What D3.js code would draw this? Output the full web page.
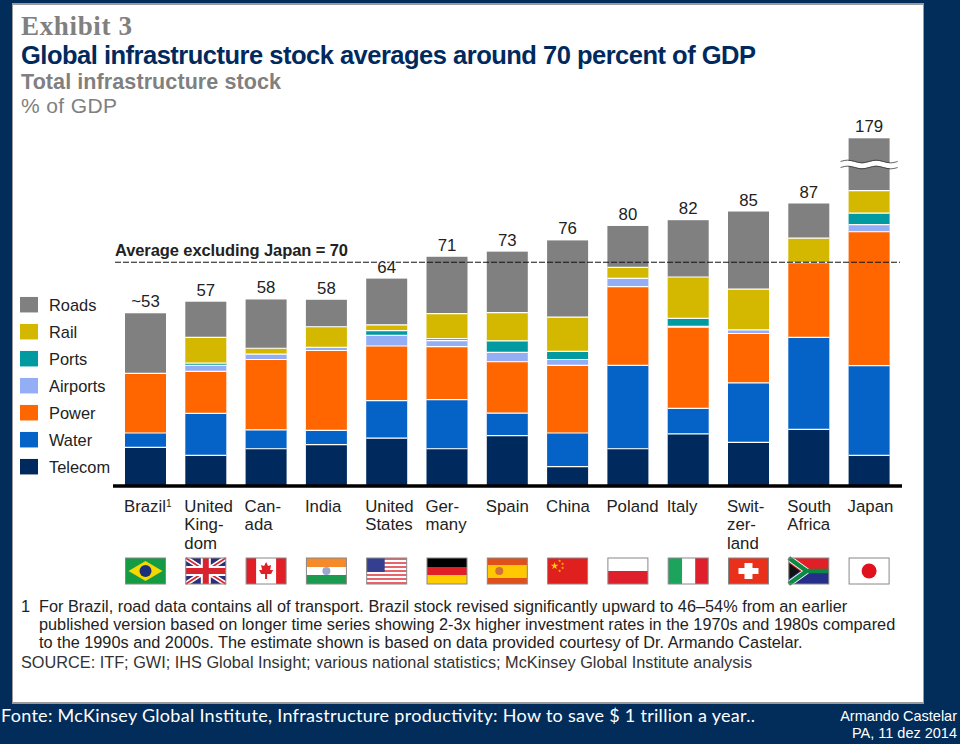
<!DOCTYPE html>
<html><head><meta charset="utf-8">
<script src="https://cdn.jsdelivr.net/npm/d3@7"></script>
<style>html,body{margin:0;padding:0;background:#022d5a;overflow:hidden}svg{display:block}text{font-family:"Liberation Sans",Arial,sans-serif}</style>
</head><body><div id="chart"></div>
<script>
const countries=["Brazil","United Kingdom","Canada","India","United States","Germany","Spain","China","Poland","Italy","Switzerland","South Africa","Japan"];
const totalLabels=["~53","57","58","58","64","71","73","76","80","82","85","87","179"];
const categoryLines=[["Brazil"],["United","King-","dom"],["Can-","ada"],["India"],["United","States"],["Ger-","many"],["Spain"],["China"],["Poland"],["Italy"],["Swit-","zer-","land"],["South","Africa"],["Japan"]];
const seriesNames=["Telecom","Water","Power","Airports","Ports","Rail","Roads"];
const seriesColors=["#002a5e","#0563c8","#ff6600","#94aef5","#009aa0","#d4b800","#808080"];
const telecom=[11.7,9.2,11.3,12.6,14.6,11.3,15.4,5.7,11.3,15.9,13.3,17.3,9.2];
const water=[4.5,13.1,5.9,4.4,11.7,15.3,7.0,10.5,26.0,8.0,18.5,28.7,28.0];
const power=[18.6,13.1,21.9,24.9,17.0,16.5,16.0,21.1,24.5,25.3,15.4,23.3,41.7];
const airports=[0,1.9,1.7,1.0,3.3,1.9,2.9,1.8,2.6,0.2,1.1,0,2.2];
const ports=[0,0.7,0,0,1.5,0.6,3.6,2.5,0,2.5,0,0,3.6];
const rail=[0,8.0,1.8,6.4,1.8,7.8,8.8,10.7,3.4,12.9,12.7,7.6,7.0];
const roads=[18.7,11.1,15.2,8.4,14.4,17.7,19.0,23.9,12.9,17.7,24.2,10.8,87.3];
const averageValue=69.4;
const yDomain=[0,92,179];
const legendOrder=["Roads","Rail","Ports","Airports","Power","Water","Telecom"];
const footnoteLines=["For Brazil, road data contains all of transport. Brazil stock revised significantly upward to 46–54% from an earlier","published version based on longer time series showing 2-3x higher investment rates in the 1970s and 1980s compared","to the 1990s and 2000s. The estimate shown is based on data provided courtesy of Dr. Armando Castelar."];

const W=960,H=744;
const svg=d3.select("#chart").append("svg").attr("width",W).attr("height",H);
svg.append("rect").attr("width",W).attr("height",H).attr("fill","#022d5a");
svg.append("rect").attr("x",12).attr("y",3).attr("width",912).attr("height",701).attr("fill","#9a9a9a");
svg.append("rect").attr("x",13).attr("y",5).attr("width",910).attr("height",697).attr("fill","#fff");

function label(t,x,y,size,color,opts={}){
  const e=svg.append("text").attr("x",x).attr("y",y).attr("font-size",size).attr("fill",color).text(t);
  if(opts.weight)e.attr("font-weight",opts.weight);
  if(opts.anchor)e.attr("text-anchor",opts.anchor);
  if(opts.family)e.style("font-family",opts.family);
  if(opts.len)e.attr("textLength",opts.len).attr("lengthAdjust","spacing");
  return e;
}
label("Exhibit 3",21,35,27,"#808080",{weight:"bold",family:'"Liberation Serif",serif',len:111});
label("Global infrastructure stock averages around 70 percent of GDP",21,64,25.5,"#002a5e",{weight:"bold",len:735});
label("Total infrastructure stock",21,89,21.5,"#808080",{weight:"bold",len:260});
label("% of GDP",21,113,21,"#808080",{len:96});

const x=d3.scaleBand().domain(countries).range([125,889.6]).paddingInner(0.32).paddingOuter(0);
const y=d3.scaleLinear().domain(yDomain).range([485,189.7,138.3]);
const table=countries.map((c,i)=>({country:c,Telecom:telecom[i],Water:water[i],Power:power[i],Airports:airports[i],Ports:ports[i],Rail:rail[i],Roads:roads[i]}));
const stacked=d3.stack().keys(seriesNames)(table);
const color=d3.scaleOrdinal(seriesNames,seriesColors);

const plot=svg.append("g");
plot.selectAll("g.s").data(stacked).join("g").attr("class","s").attr("fill",d=>color(d.key))
 .selectAll("rect").data(d=>d.filter(p=>p[1]>p[0])).join("rect")
 .attr("x",d=>x(d.data.country)).attr("width",x.bandwidth())
 .attr("y",d=>y(d[1])).attr("height",d=>Math.max(0,y(d[0])-y(d[1])));
plot.selectAll("g.sep").data(stacked.slice(0,-1)).join("g").attr("class","sep")
 .selectAll("line").data(d=>d.filter(p=>p[1]>p[0])).join("line")
 .attr("x1",d=>x(d.data.country)).attr("x2",d=>x(d.data.country)+x.bandwidth())
 .attr("y1",d=>y(d[1])).attr("y2",d=>y(d[1])).attr("stroke","#fff").attr("stroke-width",1.2);

// baseline
svg.append("line").attr("x1",113).attr("x2",902).attr("y1",486).attr("y2",486).attr("stroke","#000").attr("stroke-width",3.4);

// break mark on Japan's Roads segment
const jx=x("Japan"), bw=x.bandwidth();
const wave=d3.line().curve(d3.curveBasis);
const waveY=[0,-2,0,2,0,-2,0,2,0];
const wavePts=waveY.map((v,i)=>[jx-8+i*(bw+16)/8,164.5+v]);
svg.append("path").attr("d",wave(wavePts)).attr("fill","none").attr("stroke","#fff").attr("stroke-width",5);
[-3,3].forEach(o=>svg.append("path").attr("d",wave(wavePts.map(p=>[p[0],p[1]+o]))).attr("fill","none").attr("stroke","#333").attr("stroke-width",0.8));

// average line
svg.append("line").attr("x1",115).attr("x2",900).attr("y1",y(averageValue)).attr("y2",y(averageValue)).attr("stroke","#111").attr("stroke-width",1).attr("stroke-dasharray","6 2");
label("Average excluding Japan = 70",115,256,16.5,"#222",{weight:"bold",len:233});

// category and total labels
countries.forEach((c,i)=>{
  const lx=x(c)-1;
  categoryLines[i].forEach((t,j)=>{
    const e=label(t,lx,512+j*18.3,16.8,"#222");
    if(i===0){e.append("tspan").attr("font-size",10).attr("dy",-5).text("1");}
  });
  label(totalLabels[i],x(c)+x.bandwidth()/2,y(d3.sum(seriesNames,k=>table[i][k]))-6,16.8,"#222",{anchor:"middle"})
    .attr("stroke","#fff").attr("stroke-width",3).attr("paint-order","stroke");
});

// legend
const legY=d3.scalePoint().domain(legendOrder).range([304.7,466.7]);
legendOrder.forEach(k=>{
  svg.append("rect").attr("x",20).attr("y",legY(k)-7.75).attr("width",18).attr("height",15.5).attr("fill",color(k));
  label(k,49,legY(k)+6,16.4,"#222");
});

// flags
function flag(name,f){
  const X=x(name)+0.5,Y=558,w=40,h=26;
  const g=svg.append("g").attr("transform",`translate(${X},${Y})`);
  const r=(a,b,c,d,col)=>g.append("rect").attr("x",a).attr("y",b).attr("width",c).attr("height",d).attr("fill",col);
  f(g,r,w,h);
  g.append("rect").attr("width",w).attr("height",h).attr("fill","none").attr("stroke","#888").attr("stroke-width",1);
}
function star(g,cx,cy,s,col){g.append("path").attr("d",d3.symbol(d3.symbolStar,s)()).attr("transform",`translate(${cx},${cy})`).attr("fill",col);}
flag("Brazil",(g,r,w,h)=>{r(0,0,w,h,"#169b45");g.append("path").attr("d",`M3,13L20,3L37,13L20,23Z`).attr("fill","#f5d800");g.append("circle").attr("cx",20).attr("cy",13).attr("r",6).attr("fill","#1a2f7a");});
flag("United Kingdom",(g,r,w,h)=>{r(0,0,w,h,"#2a2f78");
 g.append("path").attr("d",`M0,0L${w},${h}M${w},0L0,${h}`).attr("stroke","#fff").attr("stroke-width",5);
 g.append("path").attr("d",`M0,0L${w},${h}M${w},0L0,${h}`).attr("stroke","#d9232e").attr("stroke-width",1.6);
 r(15,0,10,h,"#fff");r(0,8,w,10,"#fff");r(17,0,6,h,"#d9232e");r(0,10,w,6,"#d9232e");});
flag("Canada",(g,r,w,h)=>{r(0,0,w,h,"#fff");r(0,0,10,h,"#e01f26");r(30,0,10,h,"#e01f26");g.append("path").attr("d","M20,4L22,8L25,7L24,12L27,12L25,16L21,16L21,21L19,21L19,16L15,16L13,12L16,12L15,7L18,8Z").attr("fill","#e01f26");});
flag("India",(g,r,w,h)=>{r(0,0,w,9,"#f58a2a");r(0,9,w,8,"#fff");r(0,17,w,9,"#1a9b50");g.append("circle").attr("cx",20).attr("cy",13).attr("r",4).attr("fill","#9aa8d0");});
flag("United States",(g,r,w,h)=>{r(0,0,w,h,"#fff");d3.range(7).forEach(i=>r(0,i*4,w,2,"#e8636a"));r(0,0,18,14,"#34408f");});
flag("Germany",(g,r,w,h)=>{r(0,0,w,9,"#000");r(0,9,w,8,"#e01f26");r(0,17,w,9,"#ffce00");});
flag("Spain",(g,r,w,h)=>{r(0,0,w,h,"#e0501a");r(0,7,w,13,"#ffc800");g.append("circle").attr("cx",12).attr("cy",13).attr("r",4).attr("fill","#d2703a");});
flag("China",(g,r,w,h)=>{r(0,0,w,h,"#e01f1f");star(g,7,8,18,"#ffcc00");[[12,3],[15,6],[15,10],[12,13]].forEach(p=>star(g,p[0],p[1],3,"#ffcc00"));});
flag("Poland",(g,r,w,h)=>{r(0,0,w,13,"#fff");r(0,13,w,13,"#e01f2d");});
flag("Italy",(g,r,w,h)=>{r(0,0,14,h,"#1ca45c");r(14,0,13,h,"#fff");r(27,0,13,h,"#e01f2d");});
flag("Switzerland",(g,r,w,h)=>{r(0,0,w,h,"#e8301a");r(16,5,8,16,"#fff");r(10,10,20,6,"#fff");});
flag("South Africa",(g,r,w,h)=>{r(0,0,w,13,"#e01f26");r(0,13,w,13,"#252f8a");
 g.append("path").attr("d",`M0,0L18,13L0,26`).attr("fill","none").attr("stroke","#fff").attr("stroke-width",6);
 g.append("path").attr("d",`M0,0L18,13H${w}M18,13L0,26`).attr("fill","none").attr("stroke","#0c8a44").attr("stroke-width",4.5);
 g.append("path").attr("d","M0,5L11,13L0,21Z").attr("fill","#111");});
flag("Japan",(g,r,w,h)=>{r(0,0,w,h,"#fff");g.append("circle").attr("cx",20).attr("cy",13).attr("r",7.5).attr("fill","#e0101c");});

// notes
label("1",21,612,16.3,"#222");
footnoteLines.forEach((t,i)=>{label(t,39,612+i*18,16.3,"#222");});
label("SOURCE: ITF; GWI; IHS Global Insight; various national statistics; McKinsey Global Institute analysis",21,668,16.3,"#333");

// slide footer
label("Fonte: McKinsey Global Institute, Infrastructure productivity: How to save $ 1 trillion a year..",1,722,18,"#fff",{family:'Lato,"Open Sans",sans-serif',len:754});
label("Armando Castelar",957,721,14.5,"#fff",{anchor:"end"});
label("PA, 11 dez 2014",957,738,14.5,"#fff",{anchor:"end"});
</script></body></html>
